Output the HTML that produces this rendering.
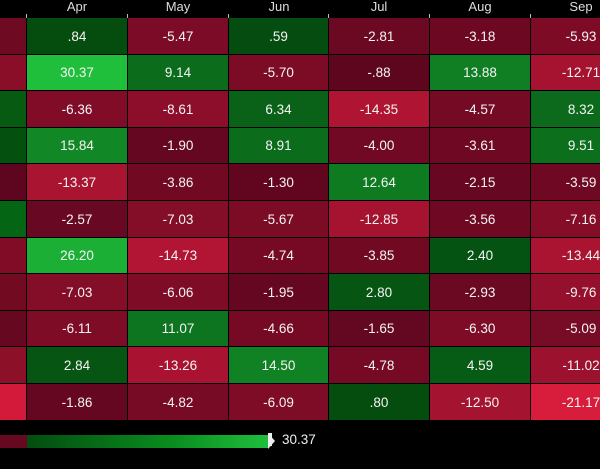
<!DOCTYPE html>
<html><head><meta charset="utf-8"><style>
body{margin:0;background:#000;width:600px;height:469px;overflow:hidden;font-family:"Liberation Sans",sans-serif}
.c{position:absolute;color:#f4f4f4;font-size:13.5px;display:flex;align-items:center;justify-content:center}
.h{position:absolute;top:0;height:16px;color:#ddd;font-size:13px;text-align:center;line-height:14px}
.t{position:absolute;top:14px;width:1px;height:4px;background:#bbb}
</style></head><body>
<div id="g"></div>
<div style="position:absolute;left:0;top:435px;width:27px;height:13px;background:#66081f"></div>
<div style="position:absolute;left:27px;top:435px;width:241px;height:13px;background:linear-gradient(90deg,#034d10,#0a8c1e 60%,#1fbe3c)"></div>
<div style="position:absolute;left:268px;top:433px;width:0;height:0;border-left:7px solid #eee;border-top:8px solid transparent;border-bottom:8px solid transparent"></div>
<div style="position:absolute;left:268px;top:433px;width:4px;height:13px;background:#eee"></div>
<div style="position:absolute;left:282px;top:432px;color:#eee;font-size:13.5px">30.37</div>
<script>
(function(){
var months=["Apr","May","Jun","Jul","Aug","Sep"];
var data=[
[".84","-5.47",".59","-2.81","-3.18","-5.93"],
["30.37","9.14","-5.70","-.88","13.88","-12.71"],
["-6.36","-8.61","6.34","-14.35","-4.57","8.32"],
["15.84","-1.90","8.91","-4.00","-3.61","9.51"],
["-13.37","-3.86","-1.30","12.64","-2.15","-3.59"],
["-2.57","-7.03","-5.67","-12.85","-3.56","-7.16"],
["26.20","-14.73","-4.74","-3.85","2.40","-13.44"],
["-7.03","-6.06","-1.95","2.80","-2.93","-9.76"],
["-6.11","11.07","-4.66","-1.65","-6.30","-5.09"],
["2.84","-13.26","14.50","-4.78","4.59","-11.02"],
["-1.86","-4.82","-6.09",".80","-12.50","-21.17"]];
var first=["#6e0a22","#8a0e28","#075a12","#03500f","#5e0620","#046614","#800c26","#720a22","#660820","#8c1028","#d41a3a"];
function col(v){var a,b,t;if(v<0){t=Math.min(-v/21.2,1);a=[0x5a,0x05,0x1e];b=[0xd8,0x1c,0x3c];}
else{t=Math.min(v/30.37,1);a=[0x03,0x4a,0x0e];b=[0x1f,0xbf,0x3c];}
return "rgb("+a.map(function(x,i){return Math.round(x+(b[i]-x)*t)}).join(",")+")";}
var h="";var xs=[0,27,128,229,329,430,531,632];
for(var j=0;j<6;j++){h+='<div class="h" style="left:'+xs[j+1]+'px;width:100px">'+months[j]+'</div>';h+='<div class="t" style="left:'+(xs[j+1]-1)+'px"></div>';}
for(var i=0;i<11;i++){var ty=18+Math.round(i*36.6);var ht=Math.round(18+(i+1)*36.6)-ty-1;
h+='<div class="c" style="left:0;top:'+ty+'px;width:26px;height:'+ht+'px;background:'+first[i]+'"></div>';
for(var j=0;j<6;j++){var v=parseFloat(data[i][j]);
h+='<div class="c" style="left:'+xs[j+1]+'px;top:'+ty+'px;width:'+(xs[j+2]-xs[j+1]-1)+'px;height:'+ht+'px;background:'+col(v)+'">'+data[i][j]+'</div>';}}
document.getElementById("g").innerHTML=h;
})();
</script>
</body></html>
